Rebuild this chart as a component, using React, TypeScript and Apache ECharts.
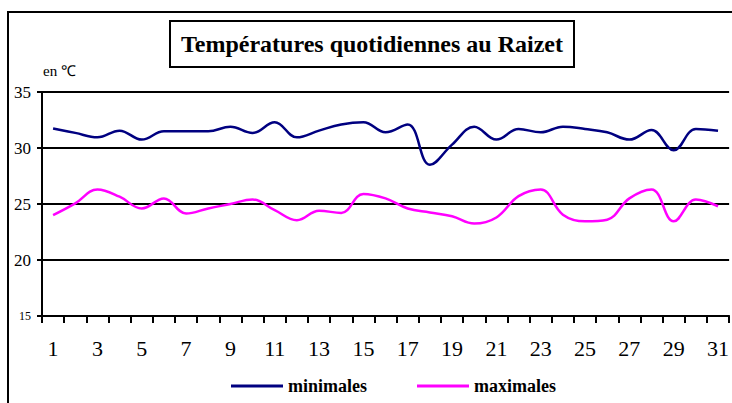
import React, { useEffect, useRef } from "react";
import * as echarts from "echarts";

const days = Array.from({ length: 31 }, (_, i) => String(i + 1));
const yTicks = [15, 20, 25, 30, 35];
const minimales = [
  31.75, 31.35, 30.95, 31.55, 30.75, 31.5, 31.5, 31.5, 31.9, 31.35, 32.3, 30.95, 31.55, 32.1, 32.3,
  31.4, 32.1, 28.5, 30.3, 31.9, 30.75, 31.7, 31.4, 31.9, 31.7, 31.4, 30.75, 31.6, 29.8, 31.7, 31.55,
];
const maximales = [
  24.0, 25.05, 26.3, 25.65, 24.6, 25.5, 24.15, 24.6, 25.0, 25.4, 24.45, 23.55, 24.4, 24.2, 25.9,
  25.5, 24.6, 24.25, 23.9, 23.25, 23.8, 25.7, 26.3, 24.05, 23.45, 23.6, 25.5, 26.3, 23.45, 25.4, 24.8,
];
const title = "Températures quotidiennes au Raizet";
const unit = "en ℃";
const names = ["minimales", "maximales"];
const colors = ["#000080", "#FF00FF"];

export default function App() {
  const ref = useRef<HTMLDivElement>(null);
  useEffect(() => {
    if (!ref.current) return;
    const chart = echarts.init(ref.current, null, { renderer: "svg" });
    const serif = "Liberation Serif";
    const legendText = {
      fontFamily: serif,
      fontWeight: "bold" as const,
      fontSize: 18,
      color: "#000",
    };
    chart.setOption({
      animation: false,
      backgroundColor: "#fff",
      graphic: [
        {
          type: "rect",
          shape: { x: 8, y: 12, width: 800, height: 500 },
          style: { fill: "none", stroke: "#000", lineWidth: 2 },
          silent: true,
        },
        {
          type: "rect",
          shape: { x: 170, y: 21, width: 404, height: 46 },
          style: { fill: "#fff", stroke: "#000", lineWidth: 2 },
          silent: true,
        },
        {
          type: "text",
          x: 372,
          y: 44,
          style: {
            text: title,
            fontFamily: serif,
            fontWeight: "bold",
            fontSize: 24,
            fill: "#000",
            align: "center",
            verticalAlign: "middle",
          },
        },
        {
          type: "text",
          x: 43,
          y: 71,
          style: {
            text: unit,
            fontFamily: serif,
            fontSize: 15,
            fill: "#000",
            align: "left",
            verticalAlign: "middle",
          },
        },
      ],
      legend: [
        {
          data: [names[0]],
          left: 226,
          top: 372,
          icon: "rect",
          itemWidth: 52,
          itemHeight: 3,
          itemGap: 5,
          textStyle: legendText,
        },
        {
          data: [names[1]],
          left: 412,
          top: 372,
          icon: "rect",
          itemWidth: 52,
          itemHeight: 3,
          itemGap: 5,
          textStyle: legendText,
        },
      ],
      grid: { left: 42, right: 1, top: 92, bottom: 87 },
      xAxis: {
        type: "category",
        data: days,
        boundaryGap: true,
        axisLine: { lineStyle: { color: "#000", width: 2 } },
        axisTick: { show: true, interval: 0, length: 7, lineStyle: { color: "#000", width: 2 } },
        axisLabel: {
          interval: 1,
          margin: 21,
          fontFamily: serif,
          fontSize: 22,
          color: "#000",
        },
        splitLine: { show: false },
      },
      yAxis: {
        type: "value",
        min: yTicks[0],
        max: yTicks[yTicks.length - 1],
        interval: 5,
        axisLine: { show: true, lineStyle: { color: "#000", width: 2 } },
        axisTick: { show: true, length: 5, lineStyle: { color: "#000", width: 2 } },
        axisLabel: {
          margin: 11,
          color: "#000",
          fontFamily: serif,
          formatter: (v: number) => (v === yTicks[0] ? `{s|${v}}` : `{b|${v}}`),
          rich: {
            s: { fontFamily: serif, fontSize: 12, color: "#000" },
            b: { fontFamily: serif, fontSize: 17, color: "#000" },
          },
        },
        splitLine: { show: true, lineStyle: { color: "#000", width: 2 } },
      },
      series: [
        {
          name: names[0],
          type: "line",
          data: minimales,
          smooth: 0.4,
          symbol: "none",
          lineStyle: { color: colors[0], width: 2.5 },
          itemStyle: { color: colors[0] },
        },
        {
          name: names[1],
          type: "line",
          data: maximales,
          smooth: 0.4,
          symbol: "none",
          lineStyle: { color: colors[1], width: 2.5 },
          itemStyle: { color: colors[1] },
        },
      ],
    });
    return () => chart.dispose();
  }, []);
  return (
    <div
      ref={ref}
      style={{ position: "fixed", left: 0, top: 0, width: 732, height: 403, background: "#fff" }}
    />
  );
}
